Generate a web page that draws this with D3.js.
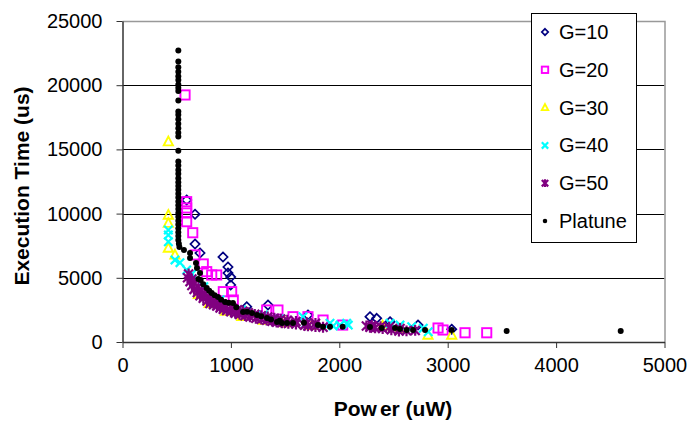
<!DOCTYPE html>
<html>
<head>
<meta charset="utf-8">
<script src="https://cdn.jsdelivr.net/npm/d3@7"></script>
<style>
    body { margin: 0; background: #fff; }
    text { font-family: "Liberation Sans", Arial, sans-serif; }
</style>
</head>
<body>
<div id="chart"></div>
<script>

//----------------------------
// Data
//----------------------------

var seriesNames = ["G=10", "G=20", "G=30", "G=40", "G=50", "Platune"];

var g10 = [[592,11060],[669,9950],[669,7630],[715,6930],[927,6620],[973,5840],[973,5370],
    [998,5060],[998,4440],[1146,2750],[1342,2880],[1711,2100],[2283,1970],[2345,1840],
    [2468,1580],[2726,1320],[3037,990]];

var g20 = [[577,19240],[592,10930],[592,10440],[592,10050],[592,9370],[648,8510],[669,6780],
    [745,6080],[777,5480],[823,5220],[869,5220],[930,3920],[1007,3920],[1022,3270],[1330,2490],
    [1434,2490],[1573,1970],[1711,1970],[1850,1710],[2031,1320],[2911,1090],[2957,935],
    [3160,720],[3360,720]];

var g30 = [[423,15600],[423,9890],[423,9250],[423,7320],[484,6780],[700,3700],[800,3000],
    [950,2400],[1100,2000],[1300,1700],[1500,1500],[1750,1300],[2400,1250],[2560,1000],
    [2818,545],[3037,545]];

var g40 = [[423,8720],[423,8330],[423,7810],[484,6390],[530,6180],[592,5610],[640,5300],
    [750,4300],[900,3300],[1100,2500],[1300,2100],[1450,1800],[1665,1970],[1693,1460],
    [1914,1460],[1944,1250],[2007,1320],[2068,1460],[2083,1320],[2468,1460],[2560,1320],
    [2668,1190],[2775,1070],[2821,800]];

var g50 = [[600,5000],[623,4700],[640,4400],[660,4100],[690,3850],[715,3600],[745,3400],
    [780,3200],[807,3000],[840,2900],[870,2800],[900,2650],[930,2550],[961,2450],[1000,2350],
    [1040,2250],[1080,2150],[1130,2050],[1176,1950],[1230,1850],[1280,1780],[1330,1700],
    [1380,1620],[1422,1550],[1470,1500],[1530,1450],[1600,1400],[1680,1300],[1711,1250],
    [1780,1200],[1850,1150],[2250,1250],[2283,1150],[2330,1100],[2400,1050],[2480,950],
    [2550,850],[2620,870],[2700,900],
    [610,5300],[640,4900],[665,4600],[700,4300],[730,4000],[760,3750],[800,3500],[840,3300],
    [880,3100],[920,2950],[960,2800],[1010,2650],[1060,2500],[1110,2400],[1160,2280],
    [1220,2150],[1280,2050],[1340,1950],[1400,1850],[1460,1780],[1520,1700],[1600,1600],
    [1700,1500],[1780,1450],[2300,1300],[2380,1200],[2460,1150],[2560,1050]];

var platune = [[515,22700],[515,21850],[515,21400],[515,21050],[515,20700],[515,20400],
    [515,20050],[515,19800],[515,19550],[515,18800],[515,17950],[515,17700],[515,17350],
    [515,17000],[515,16650],[515,16300],[515,16000],[515,14900],[515,14050],[515,13750],
    [515,13400],[515,13100],[515,12750],[515,12450],[515,12150],[515,11850],[515,11550],
    [515,11250],[515,10950],[515,10650],[515,10350],[515,10050],[515,9750],[515,9450],
    [515,9150],[515,8850],[515,8550],[515,8250],[515,7950],[520,7650],[525,7400],
    [567,7165],[623,6930],[623,6540],[678,6150],[687,5760],[715,5370],[700,4900],[721,4830],
    [745,4500],[777,4200],[800,4000],[823,3820],[850,3650],[881,3500],[910,3300],[946,3120],
    [980,3050],[1019,3040],[1050,2700],[1112,2340],[1150,2350],[1195,2260],[1241,2100],
    [1280,2000],[1333,1870],[1370,1750],[1425,1560],[1450,1650],[1471,1480],[1518,1480],
    [1573,1480],[1674,1500],[1803,1320],[1850,1190],[1914,1190],[2031,1190],[2283,1170],
    [2391,1090],[2514,1090],[2560,1010],[2622,935],[2680,935],[2791,935],[3037,935],
    [3544,860],[4596,860]];

var xTicks = [0, 1000, 2000, 3000, 4000, 5000];
var yTicks = [0, 5000, 10000, 15000, 20000, 25000];

//----------------------------
// Chart setup
//----------------------------

var w = 689;
var h = 428;

var svg = d3
    .select("#chart")
    .append("svg")
    .attr("width", w)
    .attr("height", h);

var x = d3.scaleLinear().domain([0, 5000]).range([122.5, 664.5]);
var y = d3.scaleLinear().domain([0, 25000]).range([342, 21]);

// gridlines
svg.append("g")
    .selectAll("line")
    .data(yTicks.slice(1, -1))
    .enter()
    .append("line")
    .attr("x1", x(0))
    .attr("x2", x(5000))
    .attr("y1", d => Math.round(y(d)) + 0.5)
    .attr("y2", d => Math.round(y(d)) + 0.5)
    .attr("stroke", "#000");

// gray plot border top and right
svg.append("path")
    .attr("d", "M" + x(0) + "," + (y(25000) + 0.5) + "H" + (x(5000) + 0.5) + "V" + y(0))
    .attr("fill", "none")
    .attr("stroke", "#999")
    .attr("stroke-width", 1.5);

//----------------------------
// Axes
//----------------------------

var fmt = d3.format("d");

var xAxis = svg.append("g")
    .attr("transform", "translate(0," + y(0) + ")")
    .call(d3.axisBottom(x).tickValues(xTicks).tickFormat(fmt).tickSize(6).tickSizeOuter(0).tickPadding(10));

var yAxis = svg.append("g")
    .attr("transform", "translate(" + x(0) + ",0)")
    .call(d3.axisLeft(y).tickValues(yTicks).tickFormat(fmt).tickSize(6).tickSizeOuter(0).tickPadding(14));

[xAxis, yAxis].forEach(function (g) {
    g.select(".domain").attr("stroke", "#333").attr("stroke-width", 1.5);
    g.selectAll(".tick line").attr("stroke", "#333");
    g.selectAll(".tick text")
        .attr("font-size", 20)
        .attr("fill", "#000")
        .style("font-family", "'Liberation Sans', Arial, sans-serif");
});

var xTitle = svg.append("text")
    .attr("x", 393)
    .attr("y", 416)
    .attr("text-anchor", "middle")
    .attr("font-size", 21)
    .attr("font-weight", "bold");
xTitle.append("tspan").text("Pow");
xTitle.append("tspan").attr("dx", 3).text("er (uW)");

svg.append("text")
    .attr("transform", "translate(29,186) rotate(-90)")
    .attr("text-anchor", "middle")
    .attr("font-size", 21)
    .attr("font-weight", "bold")
    .text("Execution Time (us)");

//----------------------------
// Markers
//----------------------------

function drawMarker(sel, type, s) {
    if (type === 0) {
        sel.append("path")
            .attr("d", "M0," + (-s) + "L" + s + ",0L0," + s + "L" + (-s) + ",0Z")
            .attr("fill", "none").attr("stroke", "#000080").attr("stroke-width", 1.7);
    } else if (type === 1) {
        sel.append("rect")
            .attr("x", -s).attr("y", -s).attr("width", 2 * s).attr("height", 2 * s)
            .attr("fill", "none").attr("stroke", "#ff00ff").attr("stroke-width", 1.9);
    } else if (type === 2) {
        sel.append("path")
            .attr("d", "M0," + (-s * 1.1) + "L" + s + "," + (s * 0.8) + "L" + (-s) + "," + (s * 0.8) + "Z")
            .attr("fill", "none").attr("stroke", "#ffff00").attr("stroke-width", 1.9);
    } else if (type === 3) {
        sel.append("path")
            .attr("d", "M" + (-s) + "," + (-s) + "L" + s + "," + s + "M" + (-s) + "," + s + "L" + s + "," + (-s))
            .attr("stroke", "#00ffff").attr("stroke-width", 2.2);
    } else if (type === 4) {
        sel.append("path")
            .attr("d", "M" + (-s) + "," + (-s) + "L" + s + "," + s + "M" + (-s) + "," + s + "L" + s + "," + (-s) +
                "M0," + (-s * 1.2) + "L0," + (s * 1.2))
            .attr("stroke", "#800080").attr("stroke-width", 2.2);
    } else {
        sel.append("circle").attr("r", s * 0.65).attr("fill", "#000");
    }
}

var allSeries = [g10, g20, g30, g40, g50, platune];
var sizes = [4.6, 4.6, 4.6, 4.2, 4.5, 4.6];

allSeries.forEach(function (data, i) {
    svg.append("g")
        .selectAll("g")
        .data(data)
        .enter()
        .append("g")
        .attr("transform", d => "translate(" + x(d[0]) + "," + y(d[1]) + ")")
        .each(function () { drawMarker(d3.select(this), i, sizes[i]); });
});

//----------------------------
// Legend
//----------------------------

var legend = svg.append("g");

legend.append("rect")
    .attr("x", 531.5)
    .attr("y", 13.5)
    .attr("width", 105)
    .attr("height", 229)
    .attr("fill", "#fff")
    .attr("stroke", "#000");

seriesNames.forEach(function (name, i) {
    var cy = 32 + i * 37.8;
    var item = legend.append("g").attr("transform", "translate(545," + cy + ")");
    drawMarker(item, i, i === 5 ? 3.5 : 3.2);
    legend.append("text")
        .attr("x", 559)
        .attr("y", cy + 7)
        .attr("font-size", 20)
        .text(name);
});

</script>
</body>
</html>
